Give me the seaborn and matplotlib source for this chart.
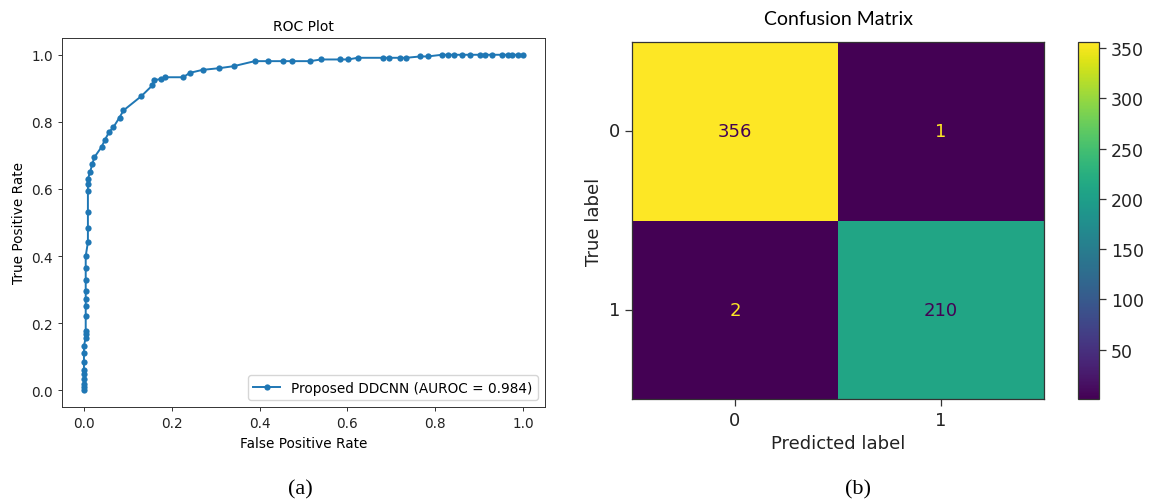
import numpy as np
import pandas as pd
import matplotlib
matplotlib.use("Agg")
import matplotlib.pyplot as plt
import seaborn as sns

# ROC curve operating points
fpr = [0.0, 0.0, 0.0, 0.0, 0.0, 0.0, 0.0, 0.0, 0.0,
       0.004, 0.004, 0.004, 0.004, 0.004, 0.004, 0.004, 0.004, 0.004, 0.004,
       0.009, 0.009, 0.009, 0.009, 0.009, 0.009,
       0.014, 0.019, 0.024, 0.040, 0.048, 0.057, 0.067, 0.081, 0.090,
       0.131, 0.156, 0.159, 0.176, 0.184, 0.226, 0.241, 0.270, 0.308, 0.341,
       0.389, 0.420, 0.454, 0.473, 0.515, 0.540, 0.583, 0.602, 0.623, 0.681,
       0.694, 0.719, 0.734, 0.766, 0.783, 0.815, 0.828, 0.842, 0.861, 0.880,
       0.903, 0.914, 0.930, 0.952, 0.965, 0.975, 0.988, 1.0]
tpr = [0.0, 0.010, 0.020, 0.033, 0.048, 0.061, 0.083, 0.110, 0.132,
       0.157, 0.167, 0.177, 0.222, 0.250, 0.271, 0.295, 0.330, 0.364, 0.400,
       0.441, 0.483, 0.532, 0.595, 0.615, 0.630,
       0.650, 0.675, 0.695, 0.725, 0.747, 0.769, 0.784, 0.813, 0.834,
       0.877, 0.909, 0.924, 0.928, 0.933, 0.933, 0.946, 0.955, 0.960, 0.966,
       0.981, 0.981, 0.981, 0.981, 0.981, 0.986, 0.986, 0.986, 0.991, 0.991,
       0.991, 0.991, 0.991, 0.995, 0.995, 1.0, 1.0, 1.0, 1.0, 1.0,
       1.0, 1.0, 1.0, 1.0, 1.0, 1.0, 1.0, 1.0]
roc_label = "Proposed DDCNN (AUROC = 0.984)"

# Confusion matrix counts (rows: true label, columns: predicted label)
class_labels = ["0", "1"]
true0_counts = [356, 1]
true1_counts = [2, 210]
cbar_ticks = [50, 100, 150, 200, 250, 300, 350]

plt.rcParams["font.family"] = ["DejaVu Sans"]

W, H = 1163, 502
fig = plt.figure(figsize=(W / 100, H / 100), dpi=100)


def box(left, top, right, bottom):
    return [left / W, 1 - bottom / H, (right - left) / W, (bottom - top) / H]


# ---- (a) ROC curve ----
ax1 = fig.add_axes(box(62, 39, 545, 408))
roc = pd.DataFrame({"fpr": fpr, "tpr": tpr})
sns.lineplot(data=roc, x="fpr", y="tpr", sort=False, estimator=None,
             marker="o", markersize=4.5, markeredgewidth=0, color="#1f77b4",
             linewidth=1.4, label=roc_label, ax=ax1)
ax1.set_xticks(np.linspace(0, 1, 6))
ax1.set_yticks(np.linspace(0, 1, 6))
ax1.set_title("ROC Plot", fontsize=10)
ax1.set_xlabel("False Positive Rate", fontsize=9.8)
ax1.set_ylabel("True Positive Rate", fontsize=9.8)
ax1.tick_params(labelsize=9.8, width=0.7, length=3.2, colors="#333333",
                labelcolor="#222222")
for s in ax1.spines.values():
    s.set_linewidth(0.7)
    s.set_edgecolor("#333333")
ax1.legend(loc="lower right", fontsize=9.8)

# ---- (b) Confusion matrix ----
ax2 = fig.add_axes(box(632, 43, 1044, 400))
cax = fig.add_axes(box(1078, 43, 1099, 400))
cm = pd.DataFrame([true0_counts, true1_counts], index=class_labels,
                  columns=class_labels)
sns.heatmap(cm, ax=ax2, cbar_ax=cax, cmap="viridis", annot=True, fmt="d",
            annot_kws={"fontsize": 13}, cbar_kws={"ticks": cbar_ticks})
cmap = plt.get_cmap("viridis")
thresh = (cm.values.max() + cm.values.min()) / 2
for t in ax2.texts:
    v = int(t.get_text())
    t.set_color(cmap(0.0) if v > thresh else cmap(1.0))
for s in ax2.spines.values():
    s.set_visible(True)
    s.set_linewidth(0.9)
    s.set_edgecolor("#333333")
ax2.set_yticklabels(class_labels, rotation=0)
ax2.set_xticklabels(class_labels, rotation=0)
ax2.tick_params(labelsize=13, length=5, width=0.9, colors="#333333",
                labelcolor="#222222")
ax2.set_xlabel("Predicted label", fontsize=13, color="#222222")
ax2.set_ylabel("True label", fontsize=13, color="#222222")
ax2.set_title("Confusion Matrix", fontsize=14, family=["Lato", "DejaVu Sans"],
              pad=13)
cbar = ax2.collections[0].colorbar
cbar.outline.set_linewidth(0.9)
cbar.outline.set_edgecolor("#333333")
cax.tick_params(labelsize=12.5, length=5, width=0.9, colors="#333333",
                labelcolor="#222222")

# panel captions
fig.text(300 / W, 1 - 490 / H, "(a)", family="Liberation Serif", fontsize=16,
         ha="center", va="center")
fig.text(858 / W, 1 - 490 / H, "(b)", family="Liberation Serif", fontsize=16,
         ha="center", va="center")

fig.savefig("out.png", dpi=100)
